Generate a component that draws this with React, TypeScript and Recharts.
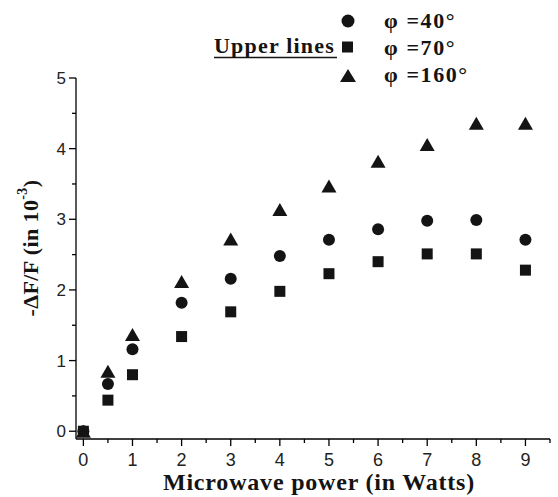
import React from "react"
import { ScatterChart, Scatter, XAxis, YAxis, Label } from "recharts"

// microwave power (W)
const powers = [0, 0.5, 1, 2, 3, 4, 5, 6, 7, 8, 9]
// -dF/F in 1e-3
const phi40 = [0, 0.67, 1.16, 1.82, 2.16, 2.48, 2.71, 2.86, 2.98, 2.99, 2.71]
const phi70 = [0, 0.44, 0.8, 1.34, 1.69, 1.98, 2.23, 2.4, 2.51, 2.51, 2.28]
const phi160 = [0, 0.85, 1.37, 2.12, 2.72, 3.14, 3.47, 3.82, 4.06, 4.36, 4.36]

const xTicks = [0, 0.5, 1, 1.5, 2, 2.5, 3, 3.5, 4, 4.5, 5, 5.5, 6, 6.5, 7, 7.5, 8, 8.5, 9, 9.5]
const yTicks = [0, 0.5, 1, 1.5, 2, 2.5, 3, 3.5, 4, 4.5, 5]

const toPoints = (ys: number[]) => powers.map((x, i) => ({ x, y: ys[i] }))

const INK = "#141414"
const SANS = "'Liberation Sans', Arial, sans-serif"
const SERIF = "'Liberation Serif', 'Times New Roman', serif"

const CircleDot = (p: any) => <circle cx={p.cx} cy={p.cy} r={6} fill={INK} />
const SquareDot = (p: any) => (
	<rect x={p.cx - 5.5} y={p.cy - 5.5} width={11} height={11} fill={INK} />
)
const TriangleDot = (p: any) => (
	<polygon
		points={`${p.cx},${p.cy - 6.5} ${p.cx - 7.5},${p.cy + 6.5} ${p.cx + 7.5},${p.cy + 6.5}`}
		fill={INK}
	/>
)

const XTick = ({ x, y, payload }: any) => {
	const major = Number.isInteger(payload.value)
	return (
		<g>
			<line x1={x} y1={y} x2={x} y2={y + (major ? 7 : 4)} stroke="#000" strokeWidth={1.3} />
			{major && (
				<text x={x} y={y + 27} textAnchor="middle" fontSize={18} fontFamily={SANS} fill="#222">
					{payload.value}
				</text>
			)}
		</g>
	)
}

const YTick = ({ x, y, payload }: any) => {
	const major = Number.isInteger(payload.value)
	return (
		<g>
			<line x1={x - (major ? 7 : 4)} y1={y} x2={x} y2={y} stroke="#000" strokeWidth={1.3} />
			{major && (
				<text x={x - 10} y={y + 6} textAnchor="end" fontSize={17} fontFamily={SANS} fill="#222">
					{payload.value}
				</text>
			)}
		</g>
	)
}

const YTitle = () => (
	<text
		x={30}
		y={248}
		transform="rotate(-90 30 248)"
		textAnchor="middle"
		dominantBaseline="central"
		fontFamily={SERIF}
		fontWeight="bold"
		fontSize={22}
		letterSpacing={0.4}
		fill={INK}
	>
		-ΔF/F (in 10
		<tspan fontSize={14} dy={-8}>-3</tspan>
		<tspan dy={8}>)</tspan>
	</text>
)

const LegendBox = () => (
	<svg width={558} height={90} style={{ position: "absolute", left: 0, top: 0 }}>
		<g fontFamily={SERIF} fontWeight="bold" fontSize={22} letterSpacing={1.2} fill={INK}>
			<text x={214} y={53}>Upper lines</text>
			<line x1={214} y1={57.5} x2={337} y2={57.5} stroke={INK} strokeWidth={1.3} />
			<circle cx={348} cy={21} r={6.5} fill={INK} />
			<rect x={342} y={41.5} width={11} height={11} fill={INK} />
			<polygon points="348,69 340,82 356,82" fill={INK} />
			<text x={384} y={28} letterSpacing={1.6}>φ =40°</text>
			<text x={384} y={55} letterSpacing={1.6}>φ =70°</text>
			<text x={384} y={82} letterSpacing={1.6}>φ =160°</text>
		</g>
	</svg>
)

export default function App() {
	return (
		<div style={{ position: "absolute", left: 0, top: 0, width: 558, height: 497, background: "#fff" }}>
			<ScatterChart width={558} height={497} margin={{ top: 78, right: 8, bottom: 28, left: 36 }}>
				<XAxis
					type="number"
					dataKey="x"
					domain={[-0.15, 9.5]}
					ticks={xTicks}
					interval={0}
					height={30}
					tickSize={0}
					tickMargin={0}
					tickLine={false}
					tick={<XTick />}
					axisLine={{ stroke: "#000", strokeWidth: 1.3 }}
				>
					<Label
						position="bottom"
						content={() => (
							<text
								x={319}
								y={490}
								textAnchor="middle"
								fontFamily={SERIF}
								fontWeight="bold"
								fontSize={24}
								letterSpacing={0.8}
								fill={INK}
							>
								Microwave power (in Watts)
							</text>
						)}
					/>
				</XAxis>
				<YAxis
					type="number"
					dataKey="y"
					domain={[-0.11, 5]}
					ticks={yTicks}
					interval={0}
					width={40}
					tickSize={0}
					tickMargin={0}
					tickLine={false}
					tick={<YTick />}
					axisLine={{ stroke: "#000", strokeWidth: 1.3 }}
				>
					<Label content={() => <YTitle />} />
				</YAxis>
				<Scatter data={toPoints(phi70)} shape={<SquareDot />} isAnimationActive={false} />
				<Scatter data={toPoints(phi40)} shape={<CircleDot />} isAnimationActive={false} />
				<Scatter data={toPoints(phi160)} shape={<TriangleDot />} isAnimationActive={false} />
			</ScatterChart>
			<LegendBox />
		</div>
	)
}
